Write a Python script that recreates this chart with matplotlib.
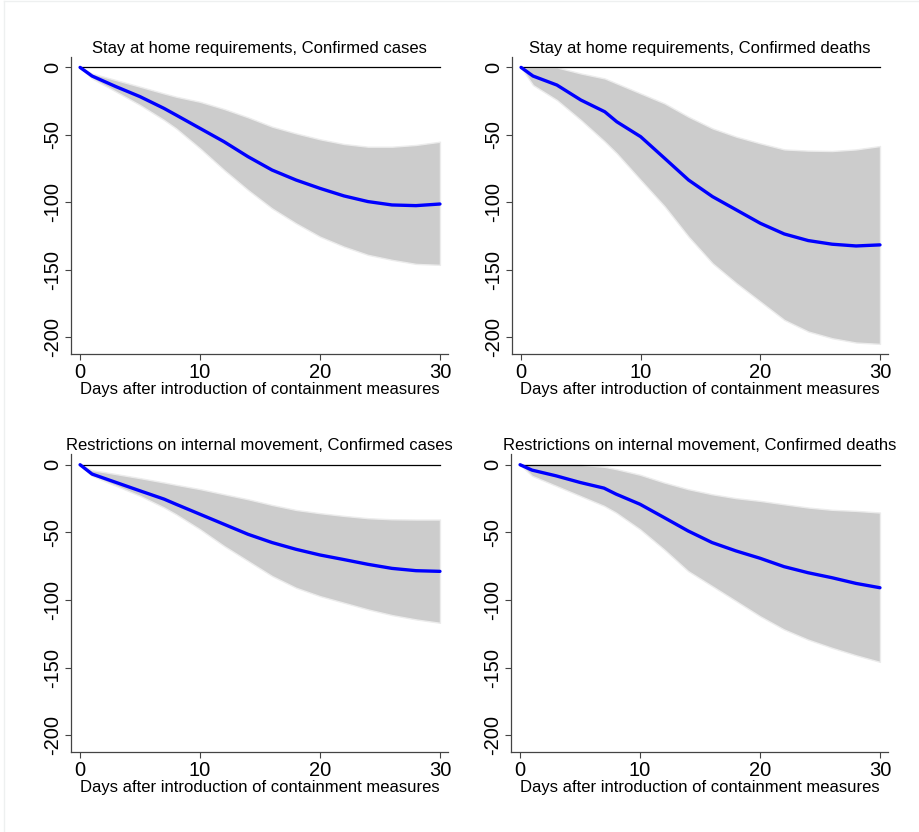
import numpy as np
import matplotlib.pyplot as plt

plt.rcParams['font.family'] = ['Liberation Sans', 'DejaVu Sans']

# days at which the impulse responses were read
days = [0, 1, 3, 5, 7, 8, 10, 12, 14, 16, 18, 20, 22, 24, 26, 28, 30]

# stay at home requirements, confirmed cases
sh_cases = [0, -6.4, -14.3, -21.7, -30.4, -35.3, -45.2, -55.1, -66.2, -76.1,
            -83.5, -89.7, -95.3, -99.5, -102, -102.5, -101.3]
sh_cases_hi = [0, -4.5, -9.4, -14.3, -19.3, -21.7, -25.5, -30.8, -37, -43.9,
               -48.9, -53.3, -56.8, -58.8, -58.8, -57.5, -55.1]
sh_cases_lo = [0, -8.2, -18, -27.9, -39, -45.2, -60, -76, -90.9, -104.5,
               -115.6, -125.5, -132.9, -139, -142.7, -145.7, -146.4]

# stay at home requirements, confirmed deaths
sh_deaths = [0, -6.4, -13.1, -24.2, -32.9, -40.3, -51.4, -67.4, -83.5, -95.8,
             -105.7, -115.6, -123.5, -128.4, -131.1, -132.4, -131.6]
sh_deaths_hi = [0, 0, 0, -4.5, -8.2, -11.9, -19.3, -26.7, -36.6, -45.2,
                -51.4, -56.3, -60.8, -61.7, -62, -60.8, -58.3]
sh_deaths_lo = [0, -13.1, -24.2, -39, -55, -63.7, -83.5, -103, -125.5, -145.2,
                -160, -173.6, -187.2, -195.8, -200.8, -204, -205]

# restrictions on internal movement, confirmed cases
ri_cases = [0, -6.9, -13.1, -19.3, -25.4, -29.2, -36.6, -44, -51.4, -57.5,
            -62.5, -66.7, -70.1, -73.6, -76.6, -78.3, -78.8]
ri_cases_hi = [0, -4, -6.9, -9.9, -13.1, -14.8, -18, -21.8, -25.5, -29.7,
               -33.4, -35.8, -37.8, -39.5, -40.3, -40.5, -40.5]
ri_cases_lo = [0, -8.2, -15.6, -23, -31.6, -36.6, -47.7, -60, -71.1, -82.2,
               -90.9, -97.1, -102, -106.9, -111.1, -114.3, -116.8]

# restrictions on internal movement, confirmed deaths
ri_deaths = [0, -4, -8.2, -13.1, -17.3, -21.7, -29.2, -39, -48.9, -57.5,
             -63.7, -69.1, -75.3, -79.8, -83.5, -87.7, -90.9]
ri_deaths_hi = [0, 0, 0, 0, -1.5, -3.2, -7.4, -13.1, -18, -21.8,
                -24.7, -26.7, -29.2, -31.6, -33.3, -34.1, -35.3]
ri_deaths_lo = [0, -8.2, -15.6, -23, -30.4, -35.4, -47.7, -62.5, -78.5, -89.6,
                -100.7, -111.9, -121.7, -129.2, -135.3, -140.8, -145.7]

titles = ["Stay at home requirements, Confirmed cases",
          "Stay at home requirements, Confirmed deaths",
          "Restrictions on internal movement, Confirmed cases",
          "Restrictions on internal movement, Confirmed deaths"]
x_ticks = [0, 10, 20, 30]
y_ticks = [0, -50, -100, -150, -200]

panels = [(sh_cases, sh_cases_lo, sh_cases_hi),
          (sh_deaths, sh_deaths_lo, sh_deaths_hi),
          (ri_cases, ri_cases_lo, ri_cases_hi),
          (ri_deaths, ri_deaths_lo, ri_deaths_hi)]

W, H = 919, 832
fig = plt.figure(figsize=(W / 100, H / 100), dpi=100)
fig.patch.set_facecolor('white')

# axes boxes in pixels: left, right, top, bottom
boxes = [(70.7, 448, 57, 354), (511.7, 888, 57, 354),
         (70.7, 448, 454.3, 752.3), (510.7, 888, 454.3, 752.3)]

for (mid, lo, hi), title, (l, r, t, b) in zip(panels, titles, boxes):
    ax = fig.add_axes([l / W, 1 - b / H, (r - l) / W, (b - t) / H])
    ax.fill_between(days, lo, hi, facecolor='#cccccc', edgecolor='#ececec',
                    linewidth=1.0, zorder=1)
    ax.plot([0, 30], [0, 0], color='black', linewidth=0.9, zorder=2)
    ax.plot(days, mid, color='#0000ff', linewidth=2.4, zorder=3,
            solid_capstyle='round', solid_joinstyle='round')
    ax.set_xlim(-0.78, 30.67)
    ax.set_ylim(-212.5, 7.7)
    ax.set_xticks(x_ticks)
    ax.set_yticks(y_ticks)
    ax.set_yticklabels([str(v) for v in y_ticks], rotation=90, va='center')
    ax.tick_params(labelsize=14.5, length=4, width=0.8, color='#444444', pad=2)
    ax.tick_params(axis='x', pad=2.5)
    ax.spines['top'].set_visible(False)
    ax.spines['right'].set_visible(False)
    for side in ('left', 'bottom'):
        ax.spines[side].set_color('#444444')
        ax.spines[side].set_linewidth(0.9)
    ax.set_title(title, fontsize=12, pad=3)
    ax.set_xlabel("Days after introduction of containment measures",
                  fontsize=12, labelpad=0)

# faint outer frame of the graph region
fig.add_artist(plt.Line2D([4 / W, 4 / W], [0, 1 - 1 / H], color='#eef0f0', linewidth=1))
fig.add_artist(plt.Line2D([4 / W, 1], [1 - 1 / H, 1 - 1 / H], color='#eef0f0', linewidth=1))

fig.savefig('out.png', dpi=100)
